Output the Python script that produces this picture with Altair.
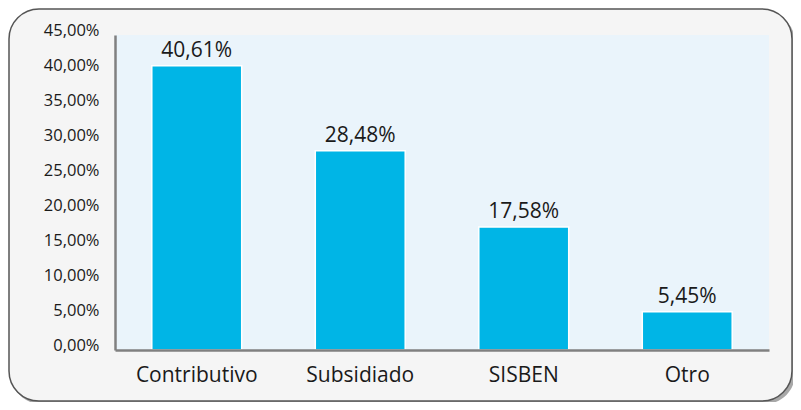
import altair as alt
import pandas as pd

categories = ["Contributivo", "Subsidiado", "SISBEN", "Otro"]
values = [40.61, 28.48, 17.58, 5.45]
labels = ["40,61%", "28,48%", "17,58%", "5,45%"]
y_ticks = [0, 5, 10, 15, 20, 25, 30, 35, 40, 45]

df = pd.DataFrame({"cat": categories, "val": values, "label": labels})
one = pd.DataFrame({"a": [0]})

W, H = 654, 315
FONT = "Open Sans"

shadow = alt.Chart(one).mark_rect(cornerRadius=30, fill="#a8a8a8").encode(
    x=alt.value(-104), x2=alt.value(680), y=alt.value(-23), y2=alt.value(369))
frame = alt.Chart(one).mark_rect(cornerRadius=30, fill="#f5f5f5", stroke="#555555",
                                  strokeWidth=1.5).encode(
    x=alt.value(-106), x2=alt.value(677), y=alt.value(-26), y2=alt.value(366))
plotbg = alt.Chart(one).mark_rect(fill="#eaf4fb").encode(
    x=alt.value(0), x2=alt.value(W), y=alt.value(0), y2=alt.value(H))

xenc = alt.X("cat:N", sort=categories,
             scale=alt.Scale(paddingInner=0.45, paddingOuter=0.225),
             axis=alt.Axis(title=None, labelAngle=0, labelFontSize=21, labelPadding=14,
                           ticks=False, domainColor="#808080", domainWidth=2.5,
                           labelColor="#1a1a1a", labelFont=FONT, zindex=1))
yenc = alt.Y("val:Q", scale=alt.Scale(domain=[0, 45], nice=False),
             axis=alt.Axis(title=None, values=y_ticks, grid=False, ticks=False,
                           labelExpr="replace(format(datum.value, '.2f'), '.', ',') + '%'",
                           labelFontSize=16.5, labelPadding=16, labelOffset=-5,
                           labelOverlap=False, labelFlush=False, labelBound=False,
                           domainColor="#808080", domainWidth=2.5,
                           labelColor="#1a1a1a", labelFont=FONT, zindex=1))

bars = alt.Chart(df).mark_bar(color="#00b5e6", stroke="white", strokeWidth=1.5).encode(
    x=xenc, y=yenc)
text = alt.Chart(df).mark_text(baseline="alphabetic", dy=-9, fontSize=21, font=FONT,
                               color="#1a1a1a").encode(
    x=xenc, y=yenc, text="label:N")

chart = alt.layer(shadow, frame, plotbg, bars, text).properties(
    width=W, height=H,
    padding={"left": 107, "top": 27, "right": 24, "bottom": 52},
    autosize=alt.AutoSizeParams(type="none"),
    background="white",
).configure_view(strokeWidth=0)

chart.save("out.html", embed_options={"renderer": "svg", "actions": False})
